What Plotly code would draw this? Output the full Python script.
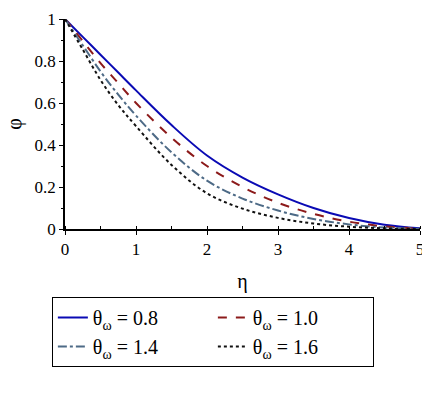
import plotly.graph_objects as go

# concentration profiles phi(eta) for several theta_w values
eta = [0, 0.25, 0.5, 0.75, 1, 1.5, 2, 2.5, 3, 3.5, 4, 4.5, 5]
phi_08 = [1, 0.915, 0.83, 0.745, 0.66, 0.495, 0.35, 0.245, 0.165, 0.10, 0.052, 0.02, 0.003]
phi_10 = [1, 0.895, 0.79, 0.695, 0.60, 0.435, 0.30, 0.20, 0.125, 0.072, 0.035, 0.012, 0.002]
phi_14 = [1, 0.875, 0.75, 0.64, 0.54, 0.365, 0.23, 0.145, 0.088, 0.048, 0.022, 0.007, 0.001]
phi_16 = [1, 0.855, 0.71, 0.59, 0.49, 0.305, 0.17, 0.097, 0.053, 0.026, 0.011, 0.003, 0.0]

labels = ["θ<sub>ω</sub> = 0.8", "θ<sub>ω</sub> = 1.0", "θ<sub>ω</sub> = 1.4", "θ<sub>ω</sub> = 1.6"]
series = [phi_08, phi_10, phi_14, phi_16]
colors = ["#0a0ab4", "#8c1a1a", "#4d6a86", "#111111"]
dashes = ["solid", "dash", "dashdot", "dot"]

fig = go.Figure()
for lab, ys, c, d in zip(labels, series, colors, dashes):
    fig.add_trace(go.Scatter(
        x=eta, y=ys, mode="lines", name=lab,
        line=dict(color=c, dash=d, width=2, shape="spline", smoothing=1.0),
    ))

serif = "Liberation Serif"

fig.update_layout(
    width=422, height=396,
    margin=dict(l=65, r=2, t=19, b=167),
    paper_bgcolor="white", plot_bgcolor="white",
    font=dict(family=serif, size=17, color="black"),
    showlegend=True,
    legend=dict(
        orientation="h", x=-0.037, y=-0.324, xanchor="left", yanchor="top",
        entrywidth=115, entrywidthmode="pixels",
        bordercolor="black", borderwidth=1,
        font=dict(family=serif, size=20),
    ),
)
fig.update_xaxes(
    range=[0, 5], showgrid=False, zeroline=False, automargin=False,
    showline=True, linecolor="black", linewidth=1.5,
    ticks="outside", ticklen=4, tickcolor="black",
    tickvals=[0, 1, 2, 3, 4, 5], ticklabeloverflow="allow",
    minor=dict(ticks="inside", ticklen=3, dtick=0.5, tickcolor="black"),
    title=dict(text="η", standoff=16),
)
fig.update_yaxes(
    range=[0, 1], showgrid=False, zeroline=False,
    showline=True, linecolor="black", linewidth=1.5,
    ticks="outside", ticklen=4, tickcolor="black",
    tickvals=[0, 0.2, 0.4, 0.6, 0.8, 1], ticktext=["0", "0.2", "0.4", "0.6", "0.8", "1"],
    minor=dict(ticks="outside", ticklen=2, dtick=0.1, tickcolor="black"),
    title=dict(text="φ", standoff=8),
)

# drop the default body margin so the figure fills the window exactly
fig.write_html(
    "out.html",
    config={"displayModeBar": False},
    post_script="document.body.style.margin='0';document.body.style.overflow='hidden';",
)
